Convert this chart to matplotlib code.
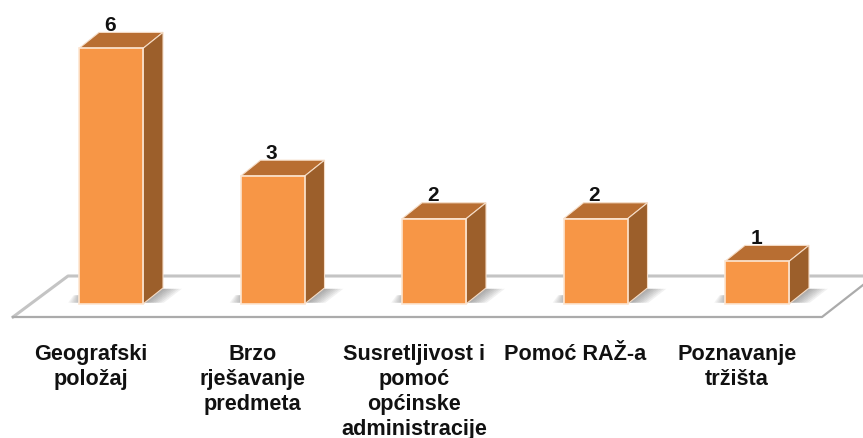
import matplotlib
matplotlib.use('Agg')
import matplotlib.pyplot as plt
import numpy as np
from matplotlib.patches import Polygon

categories = ['Geografski\npoložaj', 'Brzo\nrješavanje\npredmeta',
              'Susretljivost i\npomoć\nopćinske\nadministracije',
              'Pomoć RAŽ-a', 'Poznavanje\ntržišta']
values = [6, 3, 2, 2, 1]

W, H = 863, 438
base_px = 304     # bar baseline from the top of the image
unit_px = 42.6    # px per value
step_px = 161.5   # px between categories
first_px = 111    # centre of first bar

plt.rcParams['font.family'] = ['Liberation Sans', 'DejaVu Sans']
fig = plt.figure(figsize=(W/100, H/100), dpi=100, facecolor='white')
ax = fig.add_axes([0, 1-base_px/H, 1, base_px/H])
ax.set_xlim(-first_px/step_px, (W-first_px)/step_px)
ax.set_ylim(0, base_px/unit_px)
for s in ax.spines.values():
    s.set_visible(False)
ax.yaxis.set_visible(False)

xpos = np.arange(len(values))
bar_w = 64/step_px
dx = 20/step_px    # depth of the 3d look
dy = 16/unit_px

# floor, offsets from the baseline in data units
fx = lambda p: (p-first_px)/step_px
fy = lambda p: (base_px-p)/unit_px
ax.plot([fx(13), fx(68), fx(863)], [fy(317), fy(276), fy(276)], color='#c4c4c4', lw=2.2,
        clip_on=False, zorder=1)
ax.plot([fx(13), fx(822), fx(863)], [fy(317), fy(317), fy(285)], color='#ababab', lw=1.6,
        clip_on=False, zorder=1)

# shadows on the floor, stacked slices fade out to the right
for x in xpos:
    r = x+bar_w/2
    l = x-bar_w/2
    for k in range(1, 9):
        e = k*2.6/step_px
        ax.add_patch(Polygon([(r, 0.03), (r+dx*0.9, dy*0.95), (r+dx*0.9+e, dy*0.95), (r+e, 0.03)],
                             closed=True, fc='#505050', ec='none', alpha=0.08, clip_on=False, zorder=2))
    for k in range(1, 7):
        ax.add_patch(Polygon([(l-k*1.8/step_px, 0.03), (l-k*0.9/step_px, dy*0.55), (l, dy*0.55), (l, 0.03)],
                             closed=True, fc='#606060', ec='none', alpha=0.08, clip_on=False, zorder=2))

bars = ax.bar(xpos, values, width=bar_w, color='#F79646', edgecolor='#fde6d2', linewidth=1.2, zorder=4,
              clip_on=False)

for x, v in zip(xpos, values):
    r = x+bar_w/2
    l = x-bar_w/2
    ax.add_patch(Polygon([(l, v), (l+dx, v+dy), (r+dx, v+dy), (r, v)], closed=True,
                         fc='#B86E32', ec='#f5dcc6', lw=0.8, zorder=3, clip_on=False))
    ax.add_patch(Polygon([(r, 0), (r+dx, dy), (r+dx, v+dy), (r, v)], closed=True,
                         fc='#9C5F2B', ec='#f5dcc6', lw=0.8, zorder=3, clip_on=False))
    ax.annotate(str(v), (x, v), xytext=(-0.7, 23*0.72), textcoords='offset points', ha='center', va='center',
                fontsize=15, fontweight='bold', color='#111111', zorder=5)

# category labels sit left of the bar centres
ax.set_xticks(xpos-20/step_px, categories, fontsize=15.6, fontweight='bold', color='#111111', linespacing=1.25)
ax.tick_params(axis='x', length=0, pad=28.5)

fig.savefig('out.png', dpi=100)
